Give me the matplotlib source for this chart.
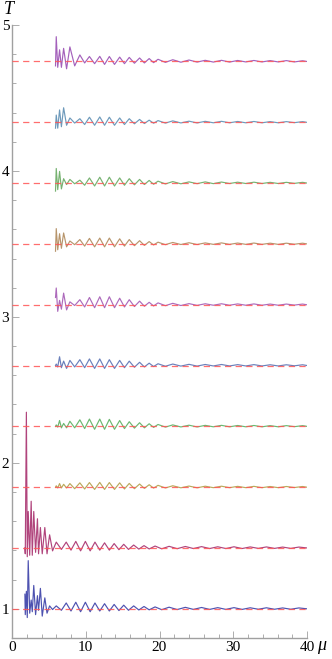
import matplotlib
matplotlib.use("Agg")
import matplotlib.pyplot as plt
import numpy as np

# levels of the dashed reference lines (bottom to top)
levels = [1.0, 1.417, 1.833, 2.25, 2.667, 3.083, 3.5, 3.917, 4.333, 4.75]

# mu positions of extrema for the curves that start near mu = 2 (two lowest)
mu_low = [1.75, 1.8, 1.95, 2.07, 2.2, 2.4, 2.6, 2.75, 2.95, 3.2, 3.45, 3.6, 3.85,
          4.1, 4.45, 4.75, 5.1, 5.5, 6.0, 6.7, 7.35, 8.0, 8.65, 9.3, 9.95, 10.6,
          11.25, 11.9, 12.55, 13.2, 13.85, 14.5, 15.15, 15.8, 16.5, 17.2, 17.9,
          18.6, 19.4, 20.3, 21.3, 22.4, 23.5, 24.6, 25.7, 26.8, 27.9, 29.0, 30.1,
          31.2, 32.3, 33.4, 34.5, 35.6, 36.7, 37.8, 38.9, 40.0]

# mu positions of extrema for the curves that start near mu = 6
mu_up = [5.9, 6.0, 6.2, 6.45, 6.7, 7.0, 7.4, 7.85, 8.5, 9.2, 9.85, 10.5, 11.2,
         11.9, 12.55, 13.2, 13.9, 14.6, 15.25, 15.9, 16.6, 17.3, 17.95, 18.6,
         19.2, 19.8, 20.8, 21.8, 22.9, 24.0, 25.1, 26.2, 27.3, 28.4, 29.5, 30.6,
         31.7, 32.8, 33.9, 35.0, 36.1, 37.2, 38.3, 39.4, 40.0]

# deviation from the level, bottom curve first
dT_1 = [0.1, -0.04, 0.12, -0.06, 0.33, -0.03, 0.06, -0.02, 0.16, -0.04, 0.09, -0.01,
        0.14, -0.05, 0.075, -0.03, 0.02, -0.005, 0.02, -0.01, 0.04, -0.015, 0.045,
        -0.02, 0.045, -0.02, 0.04, -0.015, 0.035, -0.015, 0.03, -0.012, 0.025, -0.01,
        0.02, -0.008, 0.016, -0.007, 0.013, -0.006, 0.011, -0.005, 0.01, -0.004,
        0.009, -0.004, 0.008, -0.004, 0.008, -0.004, 0.007, -0.003, 0.007, -0.003,
        0.006, -0.003, 0.006, 0.0]
dT_2 = [0.0, -0.04, 0.93, -0.06, 0.25, -0.05, 0.32, -0.05, 0.25, -0.03, 0.2, -0.04,
        0.14, -0.04, 0.14, -0.04, 0.09, -0.02, 0.04, -0.01, 0.04, -0.015, 0.045,
        -0.02, 0.045, -0.02, 0.04, -0.015, 0.035, -0.015, 0.03, -0.012, 0.025, -0.01,
        0.02, -0.008, 0.016, -0.007, 0.013, -0.006, 0.011, -0.005, 0.01, -0.004,
        0.009, -0.004, 0.008, -0.004, 0.008, -0.004, 0.007, -0.003, 0.007, -0.003,
        0.006, -0.003, 0.006, 0.0]
dT_3 = [0.0, 0.01, -0.005, 0.025, -0.005, 0.02, -0.005, 0.025, -0.01, 0.03, -0.012,
        0.032, -0.015, 0.033, -0.015, 0.032, -0.015, 0.03, -0.012, 0.026, -0.01, 0.022,
        -0.008, 0.017, -0.006, 0.013, -0.005, 0.01, -0.004, 0.008, -0.004, 0.007,
        -0.003, 0.007, -0.003, 0.006, -0.003, 0.006, -0.003, 0.005, -0.003, 0.005,
        -0.002, 0.005, 0.0]
dT_4 = [0.0, 0.01, -0.005, 0.04, -0.01, 0.02, -0.01, 0.035, -0.01, 0.045, -0.015,
        0.05, -0.02, 0.05, -0.02, 0.048, -0.02, 0.04, -0.015, 0.032, -0.012, 0.025,
        -0.01, 0.018, -0.007, 0.013, -0.005, 0.01, -0.004, 0.008, -0.004, 0.007,
        -0.003, 0.007, -0.003, 0.006, -0.003, 0.006, -0.003, 0.005, -0.003, 0.005,
        -0.002, 0.005, 0.0]
dT_5 = [0.0, 0.01, -0.01, 0.06, -0.015, 0.03, -0.02, 0.035, -0.01, 0.04, -0.015,
        0.045, -0.02, 0.045, -0.02, 0.04, -0.02, 0.035, -0.015, 0.03, -0.012, 0.022,
        -0.01, 0.016, -0.007, 0.012, -0.005, 0.01, -0.004, 0.008, -0.004, 0.007,
        -0.003, 0.007, -0.003, 0.006, -0.003, 0.006, -0.003, 0.005, -0.003, 0.005,
        -0.002, 0.005, 0.0]
dT_6 = [0.05, 0.115, -0.045, 0.03, -0.03, 0.08, -0.035, 0.02, -0.005, 0.035, -0.015,
        0.05, -0.02, 0.055, -0.02, 0.055, -0.02, 0.045, -0.015, 0.035, -0.012, 0.025,
        -0.01, 0.017, -0.008, 0.013, -0.006, 0.01, -0.005, 0.008, -0.004, 0.007,
        -0.003, 0.007, -0.003, 0.006, -0.003, 0.006, -0.003, 0.005, -0.003, 0.005,
        -0.002, 0.005, 0.0]
dT_7 = [-0.05, 0.105, -0.04, 0.07, -0.03, 0.075, -0.02, 0.02, -0.005, 0.03, -0.015,
        0.038, -0.02, 0.04, -0.02, 0.04, -0.02, 0.035, -0.015, 0.03, -0.012, 0.022,
        -0.01, 0.016, -0.007, 0.012, -0.005, 0.01, -0.004, 0.008, -0.004, 0.007,
        -0.003, 0.007, -0.003, 0.006, -0.003, 0.006, -0.003, 0.005, -0.003, 0.005,
        -0.002, 0.005, 0.0]
dT_8 = [-0.055, 0.1, -0.045, 0.08, -0.04, 0.03, -0.01, 0.025, -0.005, 0.02, -0.015,
        0.035, -0.02, 0.04, -0.02, 0.04, -0.02, 0.035, -0.015, 0.03, -0.012, 0.025,
        -0.01, 0.018, -0.008, 0.013, -0.006, 0.01, -0.005, 0.008, -0.004, 0.008,
        -0.004, 0.007, -0.003, 0.006, -0.003, 0.006, -0.003, 0.005, -0.003, 0.005,
        -0.002, 0.005, 0.0]
dT_9 = [-0.04, 0.05, -0.04, 0.085, -0.03, 0.1, -0.02, 0.03, -0.005, 0.025, -0.015,
        0.035, -0.02, 0.037, -0.02, 0.035, -0.02, 0.03, -0.015, 0.025, -0.01, 0.02,
        -0.008, 0.015, -0.006, 0.012, -0.005, 0.01, -0.004, 0.008, -0.004, 0.007,
        -0.003, 0.007, -0.003, 0.006, -0.003, 0.006, -0.003, 0.005, -0.003, 0.005,
        -0.002, 0.005, 0.0]
dT_10 = [-0.03, 0.17, -0.04, 0.08, -0.04, 0.09, -0.05, 0.10, -0.03, 0.045, -0.01,
         0.034, -0.015, 0.035, -0.02, 0.034, -0.02, 0.03, -0.015, 0.028, -0.012, 0.024,
         -0.01, 0.02, -0.008, 0.015, -0.006, 0.012, -0.005, 0.01, -0.004, 0.008,
         -0.004, 0.008, -0.004, 0.007, -0.003, 0.007, -0.003, 0.006, -0.003, 0.006,
         -0.003, 0.005, 0.0]

curves = [(mu_low, dT_1), (mu_low, dT_2), (mu_up, dT_3), (mu_up, dT_4), (mu_up, dT_5),
          (mu_up, dT_6), (mu_up, dT_7), (mu_up, dT_8), (mu_up, dT_9), (mu_up, dT_10)]
colors = ['#3a3fa8', '#a8306e', '#b3a04a', '#5cb062', '#5a72b4',
          '#a45ab4', '#b08a5c', '#68aa62', '#5e8fb4', '#9a50b4']

fig = plt.figure(figsize=(3.32, 6.59), dpi=100)
ax = fig.add_axes([12/332, 21/659, 295/332, 613/659])

for (mu, dT), level, c in zip(curves, levels, colors):
    ax.plot(mu, level + np.array(dT), color=c, lw=0.85, alpha=0.9, zorder=2)
    ax.plot([0, 40], [level, level], color='#ff5555', lw=0.9, alpha=0.85,
            dashes=(5, 3.5), zorder=3)

ax.set_xlim(0, 40)
ax.set_ylim(0.81, 5.0)
ax.set_xticks([0, 10, 20, 30, 40])
ax.set_xticks(np.arange(0, 41, 2), minor=True)
ax.set_yticks([1, 2, 3, 4, 5])
ax.set_yticks(np.arange(0.8, 5.01, 0.2), minor=True)
for s in ['top', 'right']:
    ax.spines[s].set_visible(False)
for s in ['left', 'bottom']:
    ax.spines[s].set_color('#a0a0a0')
    ax.spines[s].set_linewidth(1.0)
ax.tick_params(which='both', direction='in', color='#a0a0a0', width=0.6,
               labelsize=11, pad=2)
ax.tick_params(which='major', length=5)
ax.tick_params(which='minor', length=3)
for lab in ax.get_xticklabels() + ax.get_yticklabels():
    lab.set_fontfamily('Liberation Serif')
ax.patch.set_visible(False)

fig.text(9/332, 1 - 9/659, 'T', fontsize=13, family='Liberation Serif',
         style='italic', ha='center', va='center')
fig.text(322/332, 1 - 645/659, 'μ', fontsize=13, family='Liberation Serif',
         style='italic', ha='center', va='center')

fig.savefig('out.png', dpi=100)
